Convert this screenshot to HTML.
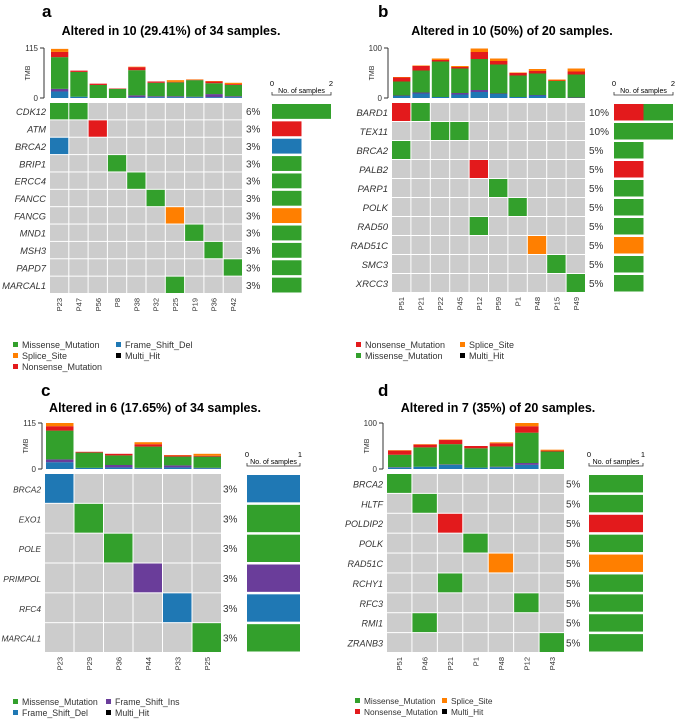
<!DOCTYPE html>
<html><head><meta charset="utf-8">
<style>
html,body{margin:0;padding:0;background:#fff;}
svg{display:block;font-family:"Liberation Sans",sans-serif;}
</style></head>
<body>
<svg id="fig" width="676" height="719" viewBox="0 0 676 719"></svg>
<script>
const COLORS = ['#33a02c','#e31a1c','#1f78b4','#ff7f00','#6a3d9a'];
// TMB stack order bottom->top: blue, purple, green, red, orange
const stackOrder = [2,4,0,1,3];

// ---- panel a data ----  cells: [geneRow, sampleCol, typeIndex]
const aSamples = ['P23','P47','P56','P8','P38','P32','P25','P19','P36','P42'];
const aGenes = ['CDK12','ATM','BRCA2','BRIP1','ERCC4','FANCC','FANCG','MND1','MSH3','PAPD7','MARCAL1'];
const aPct = ['6%','3%','3%','3%','3%','3%','3%','3%','3%','3%','3%'];
const aCells = [[0,0,0],[0,1,0],[1,2,1],[2,0,2],[3,3,0],[4,4,0],[5,5,0],[6,6,3],[7,7,0],[8,8,0],[9,9,0],[10,6,0]];
const aGreen = [73,57,30,21,58,31,32,38,25,26];
const aRed = [12,3,3,1,7,3,1,1,4,2];
const aBlue = [15,3,0,0,2,2,2,2,2,2];
const aOrange = [7,0,0,0,1,0,4,1,1,3];
const aPurple = [6,0,0,0,4,2,2,1,7,2];

// ---- panel b data ----
const bSamples = ['P51','P21','P22','P45','P12','P59','P1','P48','P15','P49'];
const bGenes = ['BARD1','TEX11','BRCA2','PALB2','PARP1','POLK','RAD50','RAD51C','SMC3','XRCC3'];
const bPct = ['10%','10%','5%','5%','5%','5%','5%','5%','5%','5%'];
const bCells = [[0,0,1],[0,1,0],[1,2,0],[1,3,0],[2,0,0],[3,4,1],[4,5,0],[5,6,0],[6,4,0],[7,7,3],[8,8,0],[9,9,0]];
const bGreen = [28,44,71,49,62,58,43,43,34,46];
const bRed = [8,9,3,3,14,7,5,5,1,6];
const bBlue = [4,9,2,7,12,8,2,5,0,0];
const bOrange = [1,1,3,2,7,5,1,4,2,6];
const bPurple = [1,2,0,3,4,1,0,1,0,1];

// ---- panel c data ----
const cSamples = ['P23','P29','P36','P44','P33','P25'];
const cGenes = ['BRCA2','EXO1','POLE','PRIMPOL','RFC4','MARCAL1'];
const cPct = ['3%','3%','3%','3%','3%','3%'];
const cCells = [[0,0,2],[1,1,0],[2,2,0],[3,3,4],[4,4,2],[5,5,0]];
const cGreen = [72,38,24,53,22,28];
const cRed = [11,2,4,6,3,2];
const cBlue = [17,3,4,2,4,2];
const cOrange = [8,0,0,5,1,5];
const cPurple = [7,0,6,1,5,1];

// ---- panel d data ----
const dSamples = ['P51','P46','P21','P1','P48','P12','P43'];
const dGenes = ['BRCA2','HLTF','POLDIP2','POLK','RAD51C','RCHY1','RFC3','RMI1','ZRANB3'];
const dPct = ['5%','5%','5%','5%','5%','5%','5%','5%','5%'];
const dCells = [[0,0,0],[1,1,0],[2,2,1],[3,3,0],[4,4,3],[5,2,0],[6,5,0],[7,1,0],[8,6,0]];
const dGreen = [27,42,44,42,44,66,38];
const dRed = [9,6,9,5,7,14,2];
const dBlue = [3,5,9,3,4,9,0];
const dOrange = [1,1,1,0,2,7,2];
const dPurple = [1,0,1,0,1,4,0];

const NS='http://www.w3.org/2000/svg';
const svg=document.getElementById('fig');
function mk(tag,attrs,parent,text){const e=document.createElementNS(NS,tag);for(const k in attrs)e.setAttribute(k,attrs[k]);if(text!==undefined)e.textContent=text;(parent||svg).appendChild(e);return e;}

function panel(P){
  const g=mk('g',{});
  
  
  const letter=mk('text',{x:P.lx,y:P.ly,'font-size':17,'font-weight':'bold'},g,P.id);
  
  
  const title=mk('text',{x:P.tx,y:P.ty,'font-size':12.5,'font-weight':'bold','text-anchor':'middle'},g,P.title);
  
  
  const n=P.samples.length, cw=(P.gx1-P.gx0)/n;
  const colX=i=>P.gx0+i*cw;
  const yT=v=>P.t0-(v/P.tmax)*(P.t0-P.t1);
  mk('line',{x1:P.ax,y1:P.t1,x2:P.ax,y2:P.t0,stroke:'#333','stroke-width':1},g);
  [[P.tmax,P.t1],[0,P.t0]].forEach(([v,y])=>{
    mk('line',{x1:P.ax-4,y1:y,x2:P.ax,y2:y,stroke:'#333'},g);
    const tl=mk('text',{x:P.ax-6,y:y+3,'font-size':8,'text-anchor':'end',fill:'#333'},g,String(v));
    
    
  });
  const tm=mk('text',{x:0,y:0,'font-size':7,'text-anchor':'middle',fill:'#333',transform:`translate(${P.ax-14},${(P.t0+P.t1)/2}) rotate(-90)`},g,'TMB');
  
  
  const series=[P.green,P.red,P.blue,P.orange,P.purple];
  for(let i=0;i<n;i++){
    let acc=0;
    stackOrder.forEach(t=>{
      const v=series[t][i]; if(!v) return;
      const r=mk('rect',{x:colX(i)+1,y:yT(acc+v),width:cw-2,height:yT(acc)-yT(acc+v),fill:COLORS[t]},g);
      
      
      acc+=v;
    });
  }
  const nr=P.genes.length, rh=(P.gy1-P.gy0)/nr;
  const cellMap={};
  P.cells.forEach(c=>{cellMap[c[0]+'_'+c[1]]=c[2];});
  const counts=P.genes.map(()=>[0,0,0,0,0]);
  P.cells.forEach(c=>counts[c[0]][c[2]]++);
  for(let r=0;r<nr;r++){
    const y=P.gy0+r*rh;
    for(let i=0;i<n;i++){
      const t=cellMap[r+'_'+i];
      const cell=mk('rect',{x:colX(i),y:y,width:cw-1,height:rh-1,fill:t===undefined?'#cccccc':COLORS[t]},g);
      
      
    }
    const gl=mk('text',{x:P.gx0-4,y:y+rh/2+3.5,'font-size':P.gfs,'font-style':'italic','text-anchor':'end',fill:'#333'},g,P.genes[r]);
    
    
    const pl=mk('text',{x:P.px,y:y+rh/2+3.5,'font-size':10,fill:'#333'},g,P.pct[r]);
    
    
    let acc=0; const uw=(P.rx1-P.rx0)/P.rmax;
    [1,0,2,3,4].forEach(t=>{
      const v=counts[r][t]; if(!v) return;
      const b=mk('rect',{x:P.rx0+acc*uw,y:y+1,width:v*uw,height:rh-2.5,fill:COLORS[t]},g);
      
      
      acc+=v;
    });
  }
  for(let i=0;i<n;i++){
    const cx=colX(i)+cw/2;
    const sl=mk('text',{x:0,y:0,'font-size':7.5,'text-anchor':'end',fill:'#333',transform:`translate(${cx+2.5},${P.gy1+4}) rotate(-90)`},g,P.samples[i]);
    
    
  }
  const ay=P.ray;
  mk('path',{d:`M${P.rx0} ${ay-3}V${ay}H${P.rx1}V${ay-3}`,stroke:'#333',fill:'none','stroke-width':0.8},g);
  const r0=mk('text',{x:P.rx0,y:ay-9,'font-size':7.5,'text-anchor':'middle'},g,'0');
  
  
  const r1=mk('text',{x:P.rx1,y:ay-9,'font-size':7.5,'text-anchor':'middle'},g,String(P.rmax));
  
  
  const rt=mk('text',{x:(P.rx0+P.rx1)/2,y:ay-2,'font-size':7,'text-anchor':'middle'},g,'No. of samples');
  
  
  P.legend.forEach(([label,col,x,y])=>{
    const lg=mk('g',{},g);
    
    
    mk('rect',{x:x,y:y-6,width:5,height:5,fill:col},lg);
    mk('text',{x:x+9,y:y,'font-size':P.lfs,fill:'#333'},lg,label);
  });
}

const K='#000';
panel({id:'a',lx:42,ly:17,tx:171,ty:35,title:'Altered in 10 (29.41%) of 34 samples.',gfs:9.3,lfs:9,
  samples:aSamples,genes:aGenes,pct:aPct,cells:aCells,green:aGreen,red:aRed,blue:aBlue,orange:aOrange,purple:aPurple,
  tmax:115,ax:44,t1:48,t0:98,gx0:50,gx1:243,gy0:103,gy1:294,px:246,rx0:272,rx1:331,rmax:2,ray:95,
  legend:[['Missense_Mutation',COLORS[0],13,348],['Frame_Shift_Del',COLORS[2],116,348],['Splice_Site',COLORS[3],13,359],['Multi_Hit',K,116,359],['Nonsense_Mutation',COLORS[1],13,370]]});
panel({id:'b',lx:378,ly:17,tx:512,ty:35,title:'Altered in 10 (50%) of 20 samples.',gfs:9.5,lfs:9,
  samples:bSamples,genes:bGenes,pct:bPct,cells:bCells,green:bGreen,red:bRed,blue:bBlue,orange:bOrange,purple:bPurple,
  tmax:100,ax:388,t1:48,t0:98,gx0:392,gx1:586,gy0:103,gy1:293,px:589,rx0:614,rx1:673,rmax:2,ray:95,
  legend:[['Nonsense_Mutation',COLORS[1],356,348],['Splice_Site',COLORS[3],460,348],['Missense_Mutation',COLORS[0],356,359],['Multi_Hit',K,460,359]]});
panel({id:'c',lx:41,ly:396,tx:155,ty:412,title:'Altered in 6 (17.65%) of 34 samples.',gfs:8.4,lfs:8.8,
  samples:cSamples,genes:cGenes,pct:cPct,cells:cCells,green:cGreen,red:cRed,blue:cBlue,orange:cOrange,purple:cPurple,
  tmax:115,ax:42,t1:423,t0:469,gx0:45,gx1:222,gy0:474,gy1:653,px:223,rx0:247,rx1:300,rmax:1,ray:466,
  legend:[['Missense_Mutation',COLORS[0],13,705],['Frame_Shift_Ins',COLORS[4],106,705],['Frame_Shift_Del',COLORS[2],13,716],['Multi_Hit',K,106,716]]});
panel({id:'d',lx:378,ly:396,tx:498,ty:412,title:'Altered in 7 (35%) of 20 samples.',gfs:9,lfs:8.3,
  samples:dSamples,genes:dGenes,pct:dPct,cells:dCells,green:dGreen,red:dRed,blue:dBlue,orange:dOrange,purple:dPurple,
  tmax:100,ax:383,t1:423,t0:469,gx0:387,gx1:565,gy0:474,gy1:653,px:566,rx0:589,rx1:643,rmax:1,ray:466,
  legend:[['Missense_Mutation',COLORS[0],355,704],['Splice_Site',COLORS[3],442,704],['Nonsense_Mutation',COLORS[1],355,715],['Multi_Hit',K,442,715]]});
</script>
</body></html>
